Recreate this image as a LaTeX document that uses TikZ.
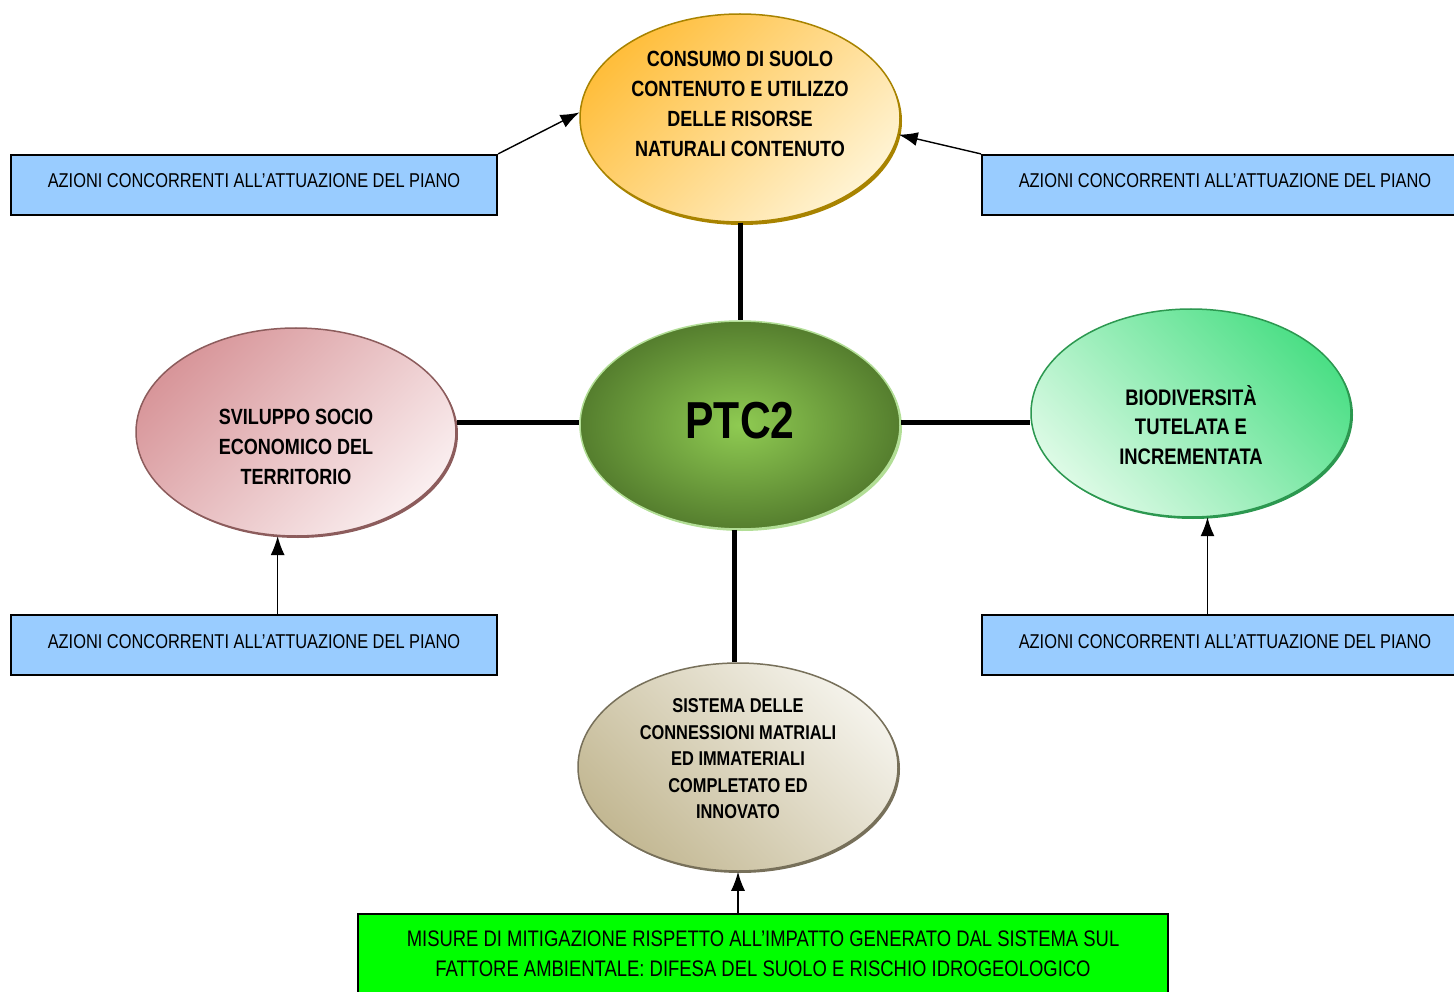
\documentclass[tikz,border=0pt]{standalone}
\usepackage{fontspec}
\setmainfont{Liberation Sans}[FakeStretch=0.82]
\usetikzlibrary{shapes.geometric,arrows.meta,shadows}
\definecolor{boxblue}{HTML}{99CCFF}
\definecolor{boxgreen}{HTML}{00FF00}
\definecolor{orA}{HTML}{FFBE3C}
\definecolor{orB}{HTML}{FFF3D2}
\definecolor{orBd}{HTML}{A88300}
\definecolor{gnIn}{HTML}{8FCB52}
\definecolor{gnOut}{HTML}{557E2E}
\definecolor{gnBd}{HTML}{B2DE96}
\definecolor{pkA}{HTML}{D8969A}
\definecolor{pkB}{HTML}{FAEEEF}
\definecolor{pkBd}{HTML}{8C5C5C}
\definecolor{ltA}{HTML}{4CDF86}
\definecolor{ltB}{HTML}{DCFAE5}
\definecolor{ltBd}{HTML}{2C9850}
\definecolor{bgA}{HTML}{F4F2EA}
\definecolor{bgB}{HTML}{C3B893}
\definecolor{bgBd}{HTML}{77705A}
\begin{document}
\begin{tikzpicture}[x=1pt,y=-1pt,
  ell/.style={ellipse, minimum width=320pt, minimum height=208pt, inner sep=0pt, line width=1.5pt},
  azbox/.style={draw=black, line width=2.2pt, fill=boxblue, minimum width=486pt, minimum height=60pt, inner sep=0pt, text depth=8pt, text height=14pt, font=\fontsize{20}{24}\selectfont},
  conn/.style={line width=5pt},
  arr/.style={line width=1.4pt, -{Latex[length=19pt,width=14pt]}},
  etx/.style={align=center, inner sep=0pt, font=\bfseries\fontsize{22}{30}\selectfont}]
\useasboundingbox (0,0) rectangle (1454,992);
\fill[white] (0,0) rectangle (1454,992);

% ellipses
\node[ell, draw=orBd, general shadow={fill=orBd, shadow xshift=2pt, shadow yshift=-3pt},
      top color=orA, bottom color=orB, shading angle=45] (top) at (740,118) {};
\node[ell, draw=gnBd, general shadow={fill=gnBd, shadow xshift=2pt, shadow yshift=-2pt},
      inner color=gnIn, outer color=gnOut] (ptc) at (740,425) {};
\node[ell, draw=pkBd, general shadow={fill=pkBd, shadow xshift=2pt, shadow yshift=-2pt},
      top color=pkA, bottom color=pkB, shading angle=45] (left) at (296,432) {};
\node[ell, draw=ltBd, general shadow={fill=ltBd, shadow xshift=2pt, shadow yshift=-2pt},
      top color=ltA, bottom color=ltB, shading angle=-45] (right) at (1191,413) {};
\node[ell, draw=bgBd, general shadow={fill=bgBd, shadow xshift=2pt, shadow yshift=-2pt},
      top color=bgA, bottom color=bgB, shading angle=-45] (bot) at (738,767) {};

% ellipse texts
\node[etx] (toptx) at ([yshift=14pt]top.center) {CONSUMO DI SUOLO\\CONTENUTO E UTILIZZO\\DELLE RISORSE\\NATURALI CONTENUTO};
\node[etx, font=\bfseries\fontsize{52}{60}\selectfont] (ptctx) at ([yshift=4pt]ptc.center) {PTC2};
\node[etx] (lefttx) at ([yshift=-15pt]left.center) {SVILUPPO SOCIO\\ECONOMICO DEL\\TERRITORIO};
\node[etx, font=\bfseries\fontsize{22.5}{29.5}\selectfont] (righttx) at ([yshift=-12pt]right.center) {BIODIVERSIT\`A\\TUTELATA E\\INCREMENTATA};
\node[etx, font=\bfseries\fontsize{20}{26.5}\selectfont] (bottx) at ([yshift=8pt]bot.center) {SISTEMA DELLE\\CONNESSIONI MATRIALI\\ED IMMATERIALI\\COMPLETATO ED\\INNOVATO};

% boxes
\node[azbox] (tl) at (254,185) {AZIONI CONCORRENTI ALL’ATTUAZIONE DEL PIANO};
\node[azbox] (tr) at (1225,185) {AZIONI CONCORRENTI ALL’ATTUAZIONE DEL PIANO};
\node[azbox] (bl) at (254,645) {AZIONI CONCORRENTI ALL’ATTUAZIONE DEL PIANO};
\node[azbox] (br) at (1225,645) {AZIONI CONCORRENTI ALL’ATTUAZIONE DEL PIANO};
\node[draw=black, line width=2.2pt, fill=boxgreen, minimum width=810pt, minimum height=80pt, inner sep=0pt,
      align=center, font=\fontsize{22.5}{30}\selectfont] (green) at (763,954)
  {MISURE DI MITIGAZIONE RISPETTO ALL’IMPATTO GENERATO DAL SISTEMA SUL\\FATTORE AMBIENTALE: DIFESA DEL SUOLO E RISCHIO IDROGEOLOGICO};

% thick connectors
\draw[conn] (top.south) -- (ptc.north);
\draw[conn] ([yshift=3pt]left.east |- ptc.west) -- ([yshift=3pt]ptc.west);
\draw[conn] ([yshift=3pt]ptc.east) -- ([yshift=3pt]right.west |- ptc.east);
\draw[conn] ([xshift=-6pt]ptc.south) -- ([xshift=-4pt]bot.north);

% arrows
\draw[arr] (tl.north east) -- (top.178);
\draw[arr] (tr.north west) -- (top.-6);
\draw[arr] (bl.north -| left.260) -- (left.260);
\draw[arr] (br.north -| right.279) -- (right.279);
\draw[arr] (bot.south |- green.north) -- (bot.south);
\end{tikzpicture}
\end{document}
